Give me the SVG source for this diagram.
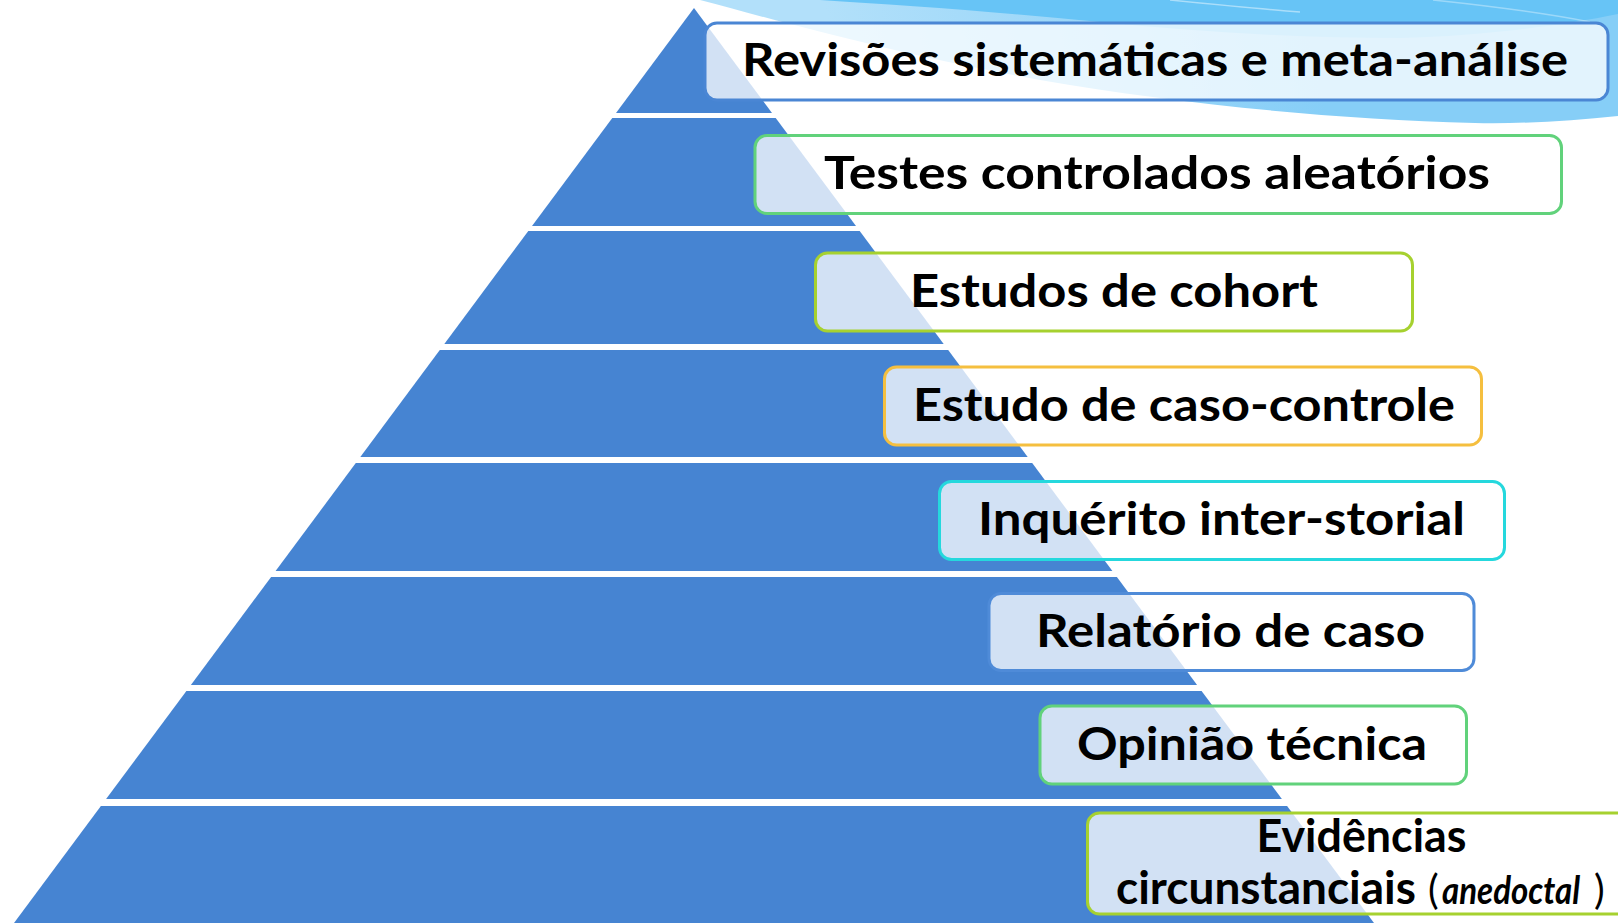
<svg xmlns="http://www.w3.org/2000/svg" width="1618" height="923" viewBox="0 0 1618 923">
<defs>
<linearGradient id="waveLight" x1="1300" y1="0" x2="850" y2="110" gradientUnits="userSpaceOnUse">
<stop offset="0" stop-color="#86CEF7"/>
<stop offset="1" stop-color="#B2E0FA"/>
</linearGradient>
</defs>
<style>
.band{fill:#4684D2}
.box{fill:#FFFFFF;fill-opacity:0.76;stroke-width:3}
.lbl{font-family:Lato,"Open Sans","Liberation Sans",sans-serif;font-weight:bold;font-size:45px;fill:#000000}
.par{font-family:Lato,"Open Sans","Liberation Sans",sans-serif;font-weight:normal;font-size:40px;fill:#000000}
.ital{font-family:Lato,"Open Sans","Liberation Sans",sans-serif;font-weight:bold;font-style:italic;font-size:39px;fill:#000000}
</style>
<rect x="0" y="0" width="1618" height="923" fill="#FFFFFF"/>
<g id="background-wave">
<path d="M700,0 L1618,0 L1618,116 C1570,121 1520,124 1475,123 C1330,119 1180,104 1040,80 C900,55 790,24 700,0 Z" fill="url(#waveLight)"/>
<path d="M820,0 L1618,0 L1618,14 C1560,26 1480,36 1400,38 C1300,38 1200,32 1100,22 C1000,12 900,5 820,0 Z" fill="#67C4F6"/>
<path d="M1170,0 C1210,4 1260,9 1300,12" fill="none" stroke="#FFFFFF" stroke-opacity="0.45" stroke-width="1.5"/>
<path d="M1433,0 C1490,6 1550,14 1590,22" fill="none" stroke="#FFFFFF" stroke-opacity="0.35" stroke-width="1.5"/>
</g>
<g id="level-1">
<polygon class="band" points="694,8 772,113 616,113"/>
<rect class="box" x="705" y="23" width="903" height="77" rx="12" stroke="#4A86D4"/>
<text class="lbl" x="742" y="76" textLength="826" lengthAdjust="spacingAndGlyphs">Revisões sistemáticas e meta-análise</text>
</g>
<g id="level-2">
<polygon class="band" points="612.3,118 775.7,118 856,226 532,226"/>
<rect class="box" x="755" y="135.5" width="806.5" height="78" rx="12" stroke="#61D27B"/>
<text class="lbl" x="824" y="188.5" textLength="666" lengthAdjust="spacingAndGlyphs">Testes controlados aleatórios</text>
</g>
<g id="level-3">
<polygon class="band" points="528.3,231 859.7,231 943.7,344 444.3,344"/>
<rect class="box" x="815.5" y="253" width="597" height="78" rx="12" stroke="#A6D12F"/>
<text class="lbl" x="910" y="306.7" textLength="408" lengthAdjust="spacingAndGlyphs">Estudos de cohort</text>
</g>
<g id="level-4">
<polygon class="band" points="439.8,350 948.2,350 1027.7,457 360.3,457"/>
<rect class="box" x="884.5" y="367" width="597" height="78" rx="12" stroke="#F5BF3F"/>
<text class="lbl" x="913" y="420.7" textLength="542" lengthAdjust="spacingAndGlyphs">Estudo de caso-controle</text>
</g>
<g id="level-5">
<polygon class="band" points="355.8,463 1032.2,463 1112.4,571 275.6,571"/>
<rect class="box" x="939.5" y="481.5" width="565" height="78" rx="12" stroke="#25D8DD"/>
<text class="lbl" x="978" y="535" textLength="487" lengthAdjust="spacingAndGlyphs">Inquérito inter-storial</text>
</g>
<g id="level-6">
<polygon class="band" points="271.1,577 1116.9,577 1197.1,685 190.9,685"/>
<rect class="box" x="989" y="593.5" width="485" height="77" rx="12" stroke="#4F8BD8"/>
<text class="lbl" x="1036" y="646.7" textLength="389" lengthAdjust="spacingAndGlyphs">Relatório de caso</text>
</g>
<g id="level-7">
<polygon class="band" points="186.4,691 1201.6,691 1281.9,799 106.1,799"/>
<rect class="box" x="1040" y="706" width="426.5" height="78" rx="12" stroke="#61D27B"/>
<text class="lbl" x="1077" y="760" textLength="350" lengthAdjust="spacingAndGlyphs">Opinião técnica</text>
</g>
<g id="level-8">
<polygon class="band" points="100.9,806 1287.1,806 1374,923 14,923"/>
<rect class="box" x="1087.5" y="813" width="560" height="101" rx="12" stroke="#A6D12F"/>
<text class="lbl" x="1256.5" y="852" textLength="210" lengthAdjust="spacingAndGlyphs">Evidências</text>
<text y="904"><tspan class="lbl" x="1116" textLength="300" lengthAdjust="spacingAndGlyphs">circunstanciais</tspan><tspan class="par" x="1428">(</tspan><tspan class="ital" x="1442" textLength="138" lengthAdjust="spacingAndGlyphs">anedoctal</tspan><tspan class="par" x="1594">)</tspan></text>
</g>
</svg>
